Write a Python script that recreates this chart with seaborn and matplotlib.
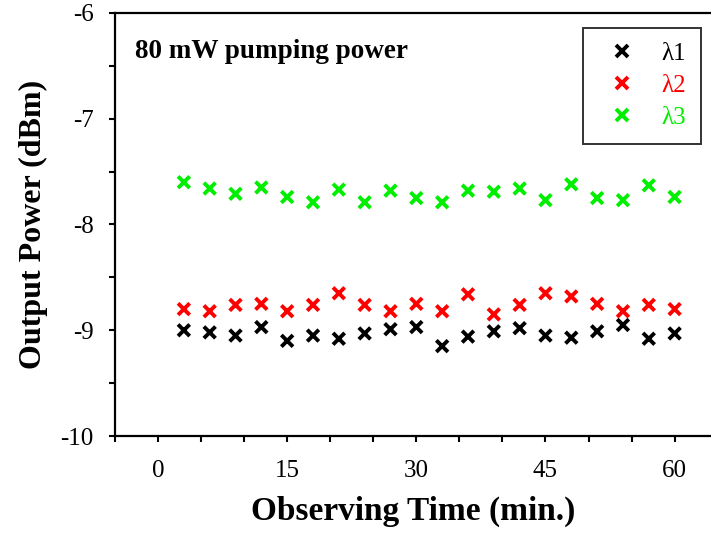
import matplotlib
matplotlib.use("Agg")
import matplotlib.pyplot as plt
import seaborn as sns
import pandas as pd
import numpy as np
from matplotlib.lines import Line2D

time_min = [3, 6, 9, 12, 15, 18, 21, 24, 27, 30, 33, 36, 39, 42, 45, 48, 51, 54, 57, 60]
lambda1 = [-9.00, -9.02, -9.05, -8.97, -9.10, -9.05, -9.08, -9.03, -8.99, -8.97,
           -9.15, -9.06, -9.01, -8.98, -9.05, -9.07, -9.01, -8.95, -9.08, -9.03]
lambda2 = [-8.80, -8.82, -8.76, -8.75, -8.82, -8.76, -8.65, -8.76, -8.82, -8.75,
           -8.82, -8.66, -8.85, -8.76, -8.65, -8.68, -8.75, -8.82, -8.76, -8.80]
lambda3 = [-7.60, -7.66, -7.71, -7.65, -7.74, -7.79, -7.67, -7.79, -7.68, -7.75,
           -7.79, -7.68, -7.69, -7.66, -7.77, -7.62, -7.75, -7.77, -7.63, -7.74]
series_names = ["λ1", "λ2", "λ3"]
series_colors = ["#000000", "#ff0000", "#00ee00"]

df = pd.DataFrame({
    "time": time_min * 3,
    "power": lambda1 + lambda2 + lambda3,
    "series": [series_names[0]] * 20 + [series_names[1]] * 20 + [series_names[2]] * 20,
})

sns.set_style("white")
plt.rcParams["font.family"] = ["Liberation Serif", "DejaVu Serif"]
plt.rcParams["text.color"] = "black"
plt.rcParams["axes.labelcolor"] = "black"
plt.rcParams["xtick.color"] = "black"
plt.rcParams["ytick.color"] = "black"

fig = plt.figure(figsize=(7.11, 5.39), dpi=100)
ax = fig.add_axes([0.1617, 0.191, 0.838, 0.785])

sns.scatterplot(data=df, x="time", y="power", hue="series", palette=series_colors,
                marker="x", s=70, linewidth=2.8, ax=ax, legend=False)

ax.set_xlim(-5, 64.2)
ax.set_ylim(-10, -6)

xt = np.arange(-5, 65, 5)
ax.set_xticks(xt)
ax.set_xticklabels([str(int(v)) if v % 15 == 0 and v >= 0 else "" for v in xt])
yt = np.arange(-10, -5.9, 0.5)
ax.set_yticks(yt)
ax.set_yticklabels([str(int(v)) if float(v).is_integer() else "" for v in yt])

ax.tick_params(axis="both", direction="out", length=4.5, width=1.5, labelsize=18,
               bottom=True, left=True, colors="black")
ax.tick_params(axis="x", pad=13)
ax.tick_params(axis="y", pad=11)

for side in ["left", "bottom", "top"]:
    ax.spines[side].set_visible(True)
    ax.spines[side].set_linewidth(1.6)
    ax.spines[side].set_color("black")
ax.spines["right"].set_visible(False)

ax.set_xlabel("Observing Time (min.)", fontsize=24, fontweight="bold", labelpad=10)
ax.set_ylabel("Output Power (dBm)", fontsize=23, fontweight="bold", labelpad=9)

ax.text(0.033, 0.908, "80 mW pumping power", transform=ax.transAxes,
        fontsize=19.5, fontweight="bold", va="center", ha="left")

handles = [Line2D([], [], linestyle="none", marker="x", color=c, markersize=8,
                  markeredgewidth=2.8) for c in series_colors]
leg = ax.legend(handles, series_names, loc="upper right", bbox_to_anchor=(0.984, 0.965),
                frameon=True, fancybox=False, edgecolor="black", fontsize=18,
                labelcolor=series_colors, handletextpad=0.64, borderpad=0.6,
                labelspacing=0.38, handlelength=1.9, borderaxespad=0)
leg.get_frame().set_linewidth(1.4)

fig.savefig("out.png", dpi=100)
